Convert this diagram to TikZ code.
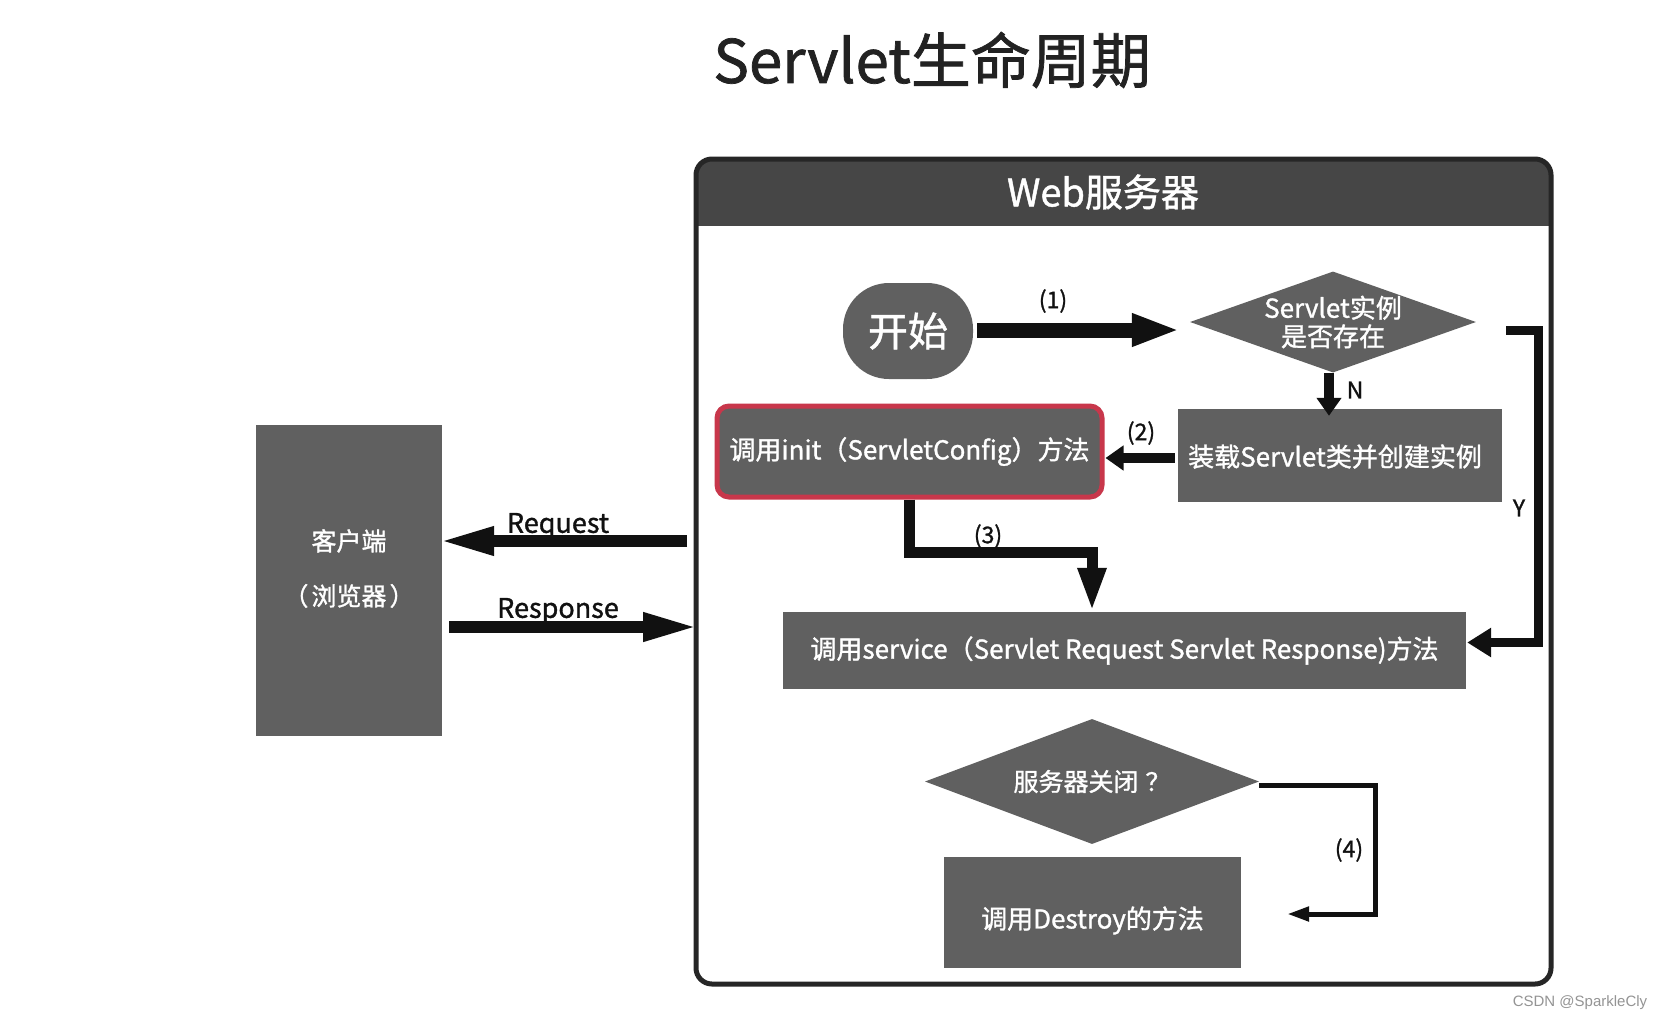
\documentclass[tikz,border=0pt]{standalone}
\usepackage{fontspec}
\setmainfont{Noto Sans CJK SC}[FakeBold=1.2]
\newfontfamily\wmfont{Liberation Sans}
\usetikzlibrary{arrows.meta,shapes.geometric}
\definecolor{boxgray}{RGB}{96,96,96}
\definecolor{headc}{RGB}{70,70,70}
\definecolor{framec}{RGB}{38,38,38}
\definecolor{arrc}{RGB}{17,17,17}
\definecolor{redc}{RGB}{200,55,75}
\definecolor{titlec}{RGB}{34,34,34}
\newcommand{\myfs}[2]{\fontsize{#1}{#2}\selectfont}
\begin{document}
\begin{tikzpicture}[x=1pt,y=-1pt,
  box/.style={fill=boxgray, text=white, inner sep=0pt, font=\myfs{26}{31}},
  boxtxt/.style={text=white, inner sep=0pt, font=\myfs{26}{31}},
  clienttxt/.style={text=white, inner sep=0pt, align=center, font=\myfs{25}{55}},
  dia/.style={diamond, fill=boxgray, inner sep=0pt},
  diatxt/.style={text=white, font=\myfs{26}{28.5}, align=center, inner sep=0pt},
  diatxtb/.style={text=white, font=\myfs{25}{30}, inner sep=0pt},
  lbl/.style={text=arrc, font=\myfs{23}{27}, inner sep=0pt},
  arrbig/.style={draw=arrc, line width=15pt, -{Triangle[length=48pt,width=30pt]}},
  arrmid/.style={draw=arrc, line width=12pt, -{Triangle[length=56pt,width=26pt]}},
  arrsm/.style={draw=arrc, line width=10pt, -{Triangle[length=18pt,width=24pt]}},
  arrthree/.style={draw=arrc, line width=11pt, -{Triangle[length=44pt,width=26pt]}},
  arry/.style={draw=arrc, line width=9pt, -{Triangle[length=24pt,width=28pt]}},
  arrfour/.style={draw=arrc, line width=5pt, -{Triangle[length=22pt,width=14pt]}}
]
\useasboundingbox (0,0) rectangle (1663,1021);
\fill[white] (0,0) rectangle (1663,1021);

% title
\node[text=titlec, font=\myfs{60}{70}, inner sep=0pt] (title) at (932,60) {Servlet生命周期};

% server frame
\begin{scope}
  \clip (690,150) rectangle (1560,225);
  \fill[headc, rounded corners=16pt] (696,159) rectangle (1551,984);
\end{scope}
\node[draw=framec, line width=5pt, rounded corners=16pt, minimum width=855pt, minimum height=825pt, inner sep=0pt] (server) at (1123.5,571.5) {};
\node[text=white, font=\myfs{38}{44}, inner sep=0pt] (hdr) at (1103,192) {Web服务器};

% nodes
\node[box, rounded corners=46pt, minimum width=130pt, minimum height=96pt, font=\myfs{40}{46}] (start) at (908,331) {开始};
\node[dia, minimum width=286pt, minimum height=101pt,
  label={[diatxt]center:{Servlet实例\\是否存在}}] (d1) at (1333,322) {};
\node[box, minimum width=324pt, minimum height=93pt,
  label={[boxtxt, xshift=-5pt, yshift=-1pt]center:{装载Servlet类并创建实例}}] (load) at (1340,455.5) {};
\node[box, draw=redc, line width=5pt, rounded corners=12pt, minimum width=385pt, minimum height=91pt] (init) at (909.5,451.5) {调用init（ServletConfig）方法};
\node[box, minimum width=683pt, minimum height=77pt] (service) at (1124.5,650.5) {调用service（Servlet Request Servlet Response)方法};
\node[box, minimum width=186pt, minimum height=311pt,
  label={[clienttxt, yshift=12pt]center:{客户端\\（\hspace{3pt}浏览器\hspace{3pt}）}}] (client) at (349,580.5) {};
\node[dia, minimum width=334pt, minimum height=125pt,
  label={[diatxtb]center:{服务器关闭\hspace{7pt}？}}] (d2) at (1092,781.5) {};
\node[box, minimum width=297pt, minimum height=111pt,
  label={[boxtxt, yshift=-8pt]center:{调用Destroy的方法}}] (destroy) at (1092.5,912.5) {};

% connectors
\draw[arrbig] ([xshift=4pt,yshift=1pt]start.east) -- ([xshift=-10pt]d1.west |- 0,330);
\node[lbl] (l1) at (1053,301) {(1)};

\draw[arrsm] ([xshift=-4pt]d1.south) -- ([xshift=-4pt,yshift=-7pt]d1.south |- load.north);
\node[lbl] (lN) at (1355,390) {N};

\draw[arrsm] ([xshift=-3pt,yshift=-2.5pt]load.west) -- ([xshift=1pt,yshift=-2.5pt]load.west -| init.east);
\node[lbl] (l2) at (1141,433) {(2)};

\coordinate (c3) at (1092,552);
\draw[arrthree] (init.south) |- (c3) -- (c3 |- service.north);
\node[lbl] (l3) at (988,536) {(3)};

\coordinate (yS) at (1506,330);
\draw[arry] (yS) -| ([xshift=72pt,yshift=8pt]service.east) -- ([xshift=1pt,yshift=8pt]service.east);
\node[lbl] (lY) at (1519,508) {Y};

\coordinate (reqS) at (687,541);
\draw[arrmid] (reqS) -- ([xshift=-4pt]client.east |- reqS);
\node[text=arrc, font=\myfs{27}{32}, inner sep=0pt] (lreq) at (558,526) {Request};

\coordinate (resE) at (699,627);
\draw[arrmid] ([xshift=7pt]client.east |- resE) -- (resE);
\node[text=arrc, font=\myfs{27}{32}, inner sep=0pt] (lres) at (558,611) {Response};

\draw[arrfour] ([yshift=-3.5pt]d2.east) -| ([xshift=134pt,yshift=-1.5pt]destroy.east) -- ([xshift=46pt,yshift=-1.5pt]destroy.east);
\node[lbl] (l4) at (1349,850) {(4)};

\node[text=black!42, font=\wmfont\fontsize{15}{18}\selectfont, inner sep=0pt] (wm) at (1580,1003) {CSDN @SparkleCly};
\end{tikzpicture}
\end{document}
